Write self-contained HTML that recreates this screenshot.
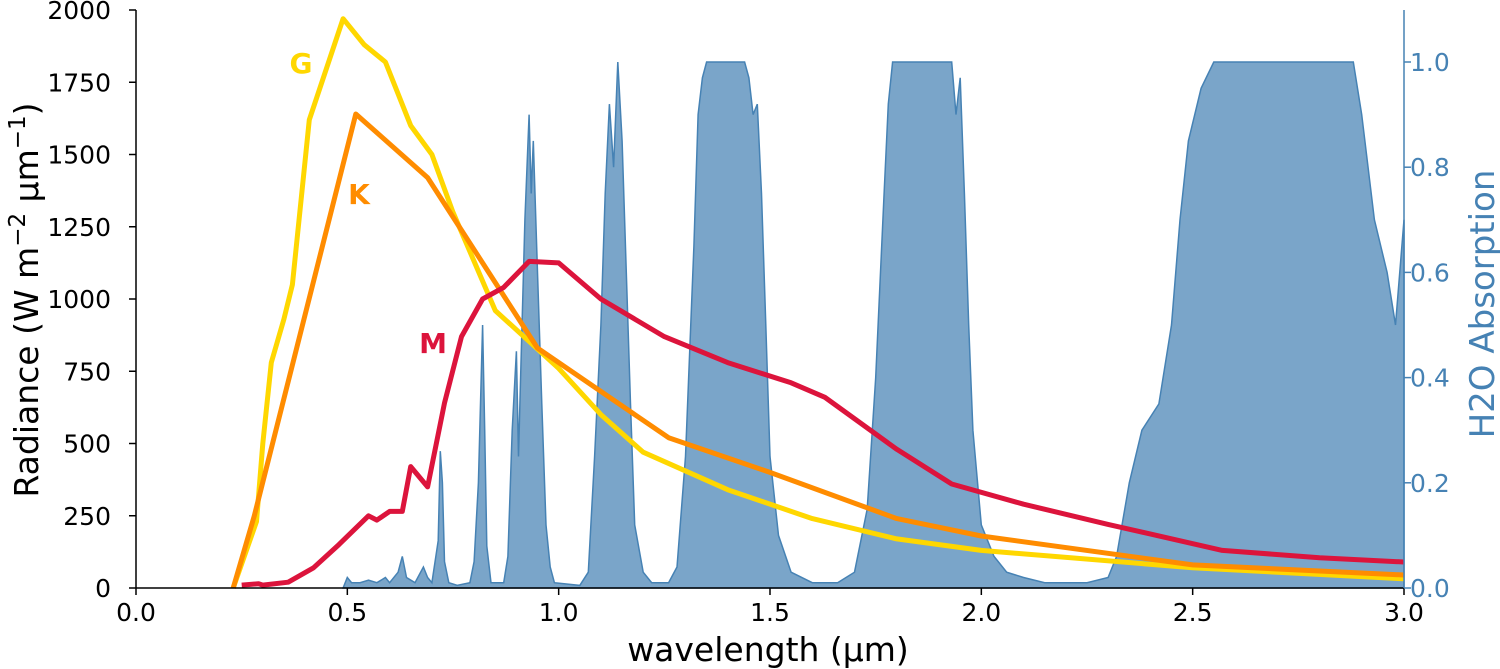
<!DOCTYPE html>
<html><head><meta charset="utf-8"><style>
html,body{margin:0;padding:0;background:#fff;}
svg{display:block;font-family:"DejaVu Sans","Liberation Sans",sans-serif;}
</style></head><body>
<svg id="chart" width="1500" height="669" viewBox="0 0 1500 669" xmlns="http://www.w3.org/2000/svg">
<g id="absorb"></g>
<g id="curves"></g>
<g id="axes"></g>
<text x="768" y="661" font-size="33" text-anchor="middle">wavelength (µm)</text>
<text transform="translate(38,300) rotate(-90)" font-size="33" text-anchor="middle">Radiance (W m<tspan dy="-13" font-size="23">−2</tspan><tspan dy="13"> µm</tspan><tspan dy="-13" font-size="23">−1</tspan><tspan dy="13">)</tspan></text>
<text transform="translate(1494,304) rotate(-90)" font-size="34" text-anchor="middle" fill="#4682b4">H2O Absorption</text>
</svg>
<script>
const absW=[0.49,0.50,0.51,0.53,0.55,0.57,0.59,0.60,0.62,0.63,0.64,0.66,0.68,0.69,0.70,0.715,0.72,0.725,0.73,0.74,0.76,0.79,0.80,0.81,0.82,0.825,0.83,0.84,0.87,0.88,0.89,0.90,0.905,0.91,0.92,0.93,0.935,0.94,0.95,0.96,0.97,0.98,0.99,1.05,1.07,1.085,1.10,1.11,1.12,1.13,1.14,1.15,1.16,1.17,1.18,1.20,1.22,1.26,1.28,1.30,1.32,1.33,1.34,1.35,1.44,1.45,1.46,1.47,1.48,1.49,1.50,1.52,1.55,1.60,1.66,1.70,1.73,1.75,1.77,1.78,1.79,1.93,1.94,1.95,1.96,1.97,1.98,2.00,2.03,2.06,2.10,2.15,2.25,2.30,2.32,2.35,2.38,2.42,2.45,2.47,2.49,2.52,2.55,2.88,2.90,2.93,2.96,2.98,3.00];
const absV=[0,0.02,0.01,0.01,0.015,0.01,0.02,0.01,0.03,0.06,0.02,0.01,0.04,0.02,0.01,0.09,0.26,0.20,0.05,0.01,0.005,0.01,0.05,0.20,0.50,0.30,0.08,0.01,0.01,0.06,0.30,0.45,0.25,0.40,0.70,0.90,0.75,0.85,0.60,0.35,0.12,0.04,0.01,0.005,0.03,0.25,0.50,0.75,0.92,0.80,1.0,0.85,0.60,0.35,0.12,0.03,0.01,0.01,0.04,0.25,0.65,0.9,0.97,1.0,1.0,0.97,0.9,0.92,0.75,0.5,0.25,0.10,0.03,0.01,0.01,0.03,0.15,0.40,0.75,0.92,1.0,1.0,0.9,0.97,0.75,0.5,0.3,0.12,0.06,0.03,0.02,0.01,0.01,0.02,0.06,0.2,0.3,0.35,0.5,0.7,0.85,0.95,1.0,1.0,0.9,0.7,0.6,0.5,0.7];
const gW=[0.23,0.285,0.30,0.32,0.35,0.37,0.41,0.49,0.54,0.59,0.65,0.70,0.75,0.85,1.0,1.1,1.2,1.4,1.6,1.8,2.0,2.5,3.0];
const gV=[0,230,500,780,930,1050,1620,1970,1880,1820,1600,1500,1300,960,760,600,470,340,240,170,130,70,32];
const kW=[0.23,0.28,0.52,0.69,0.95,1.26,1.5,1.8,2.0,2.5,3.0];
const kV=[0,250,1640,1420,830,520,400,240,180,80,45];
const mW=[0.25,0.29,0.30,0.36,0.42,0.48,0.55,0.57,0.60,0.63,0.65,0.69,0.73,0.77,0.82,0.87,0.93,1.0,1.1,1.25,1.4,1.55,1.63,1.8,1.93,2.1,2.3,2.57,2.8,3.0];
const mV=[10,15,10,20,70,150,250,235,265,265,420,350,640,870,1000,1040,1130,1125,1000,870,780,710,660,480,360,290,220,130,105,90];
const xTicks=[0.0,0.5,1.0,1.5,2.0,2.5,3.0];
const yTicks=[0,250,500,750,1000,1250,1500,1750,2000];
const y2Ticks=[0.0,0.2,0.4,0.6,0.8,1.0];

const X0=136,X1=1404,Y0=588,Ytop=10;
const sx=v=>X0+(X1-X0)*v/3;
const sy=v=>Y0-(Y0-Ytop)*v/2000;
const sy2=v=>Y0-526*v;
const NS="http://www.w3.org/2000/svg";
function mk(tag,attrs,parent){const e=document.createElementNS(NS,tag);for(const k in attrs)e.setAttribute(k,attrs[k]);parent.appendChild(e);return e;}
const ga=document.getElementById('absorb'),gc=document.getElementById('curves'),gx=document.getElementById('axes');

let d='M'+sx(absW[0])+','+Y0;
absW.forEach((w,i)=>{d+=' L'+sx(w).toFixed(1)+','+sy2(absV[i]).toFixed(1);});
d+=' L'+sx(absW[absW.length-1])+','+Y0+' Z';
const af=mk('path',{d:d,fill:'#4682b4','fill-opacity':0.72,stroke:'#4682b4','stroke-width':1.5},ga);



function curve(W,V,col,name){
  const pts=W.map((w,i)=>sx(w).toFixed(1)+','+sy(V[i]).toFixed(1)).join(' ');
  const p=mk('polyline',{points:pts,fill:'none',stroke:col,'stroke-width':5,'stroke-linejoin':'round'},gc);
  
  
}
curve(gW,gV,'#ffd700','g-star-curve');
curve(kW,kV,'#ff8c00','k-star-curve');
curve(mW,mV,'#dc143c','m-star-curve');

function label(txt,x,y,col,name){
  const t=mk('text',{x:x,y:y,fill:col,'font-size':28,'font-weight':'bold','text-anchor':'middle'},gc);
  t.textContent=txt;
  
  
}
label('G',301,73,'#ffd700','g-label');
label('K',359,204,'#ff8c00','k-label');
label('M',433,353,'#dc143c','m-label');

mk('line',{x1:X0,y1:Ytop,x2:X0,y2:Y0,stroke:'#000','stroke-width':1.5},gx);
mk('line',{x1:X0,y1:Y0,x2:X1,y2:Y0,stroke:'#000','stroke-width':1.5},gx);
mk('line',{x1:X1,y1:Ytop,x2:X1,y2:Y0,stroke:'#4682b4','stroke-width':1.5},gx);

xTicks.forEach(v=>{
  const x=sx(v);
  mk('line',{x1:x,y1:Y0,x2:x,y2:Y0+7,stroke:'#000','stroke-width':1.5},gx);
  const t=mk('text',{x:x,y:621,'font-size':25,'text-anchor':'middle',fill:'#000'},gx);
  t.textContent=v.toFixed(1);
  
  
});
yTicks.forEach(v=>{
  const y=sy(v);
  mk('line',{x1:X0-7,y1:y,x2:X0,y2:y,stroke:'#000','stroke-width':1.5},gx);
  const t=mk('text',{x:111,y:y+9,'font-size':25,'text-anchor':'end',fill:'#000'},gx);
  t.textContent=v;
  
  
});
y2Ticks.forEach(v=>{
  const y=sy2(v);
  mk('line',{x1:X1,y1:y,x2:X1+7,y2:y,stroke:'#4682b4','stroke-width':1.5},gx);
  const t=mk('text',{x:1410,y:y+9,'font-size':25,'text-anchor':'start',fill:'#4682b4'},gx);
  t.textContent=v.toFixed(1);
  
  
});
</script>
</body></html>
